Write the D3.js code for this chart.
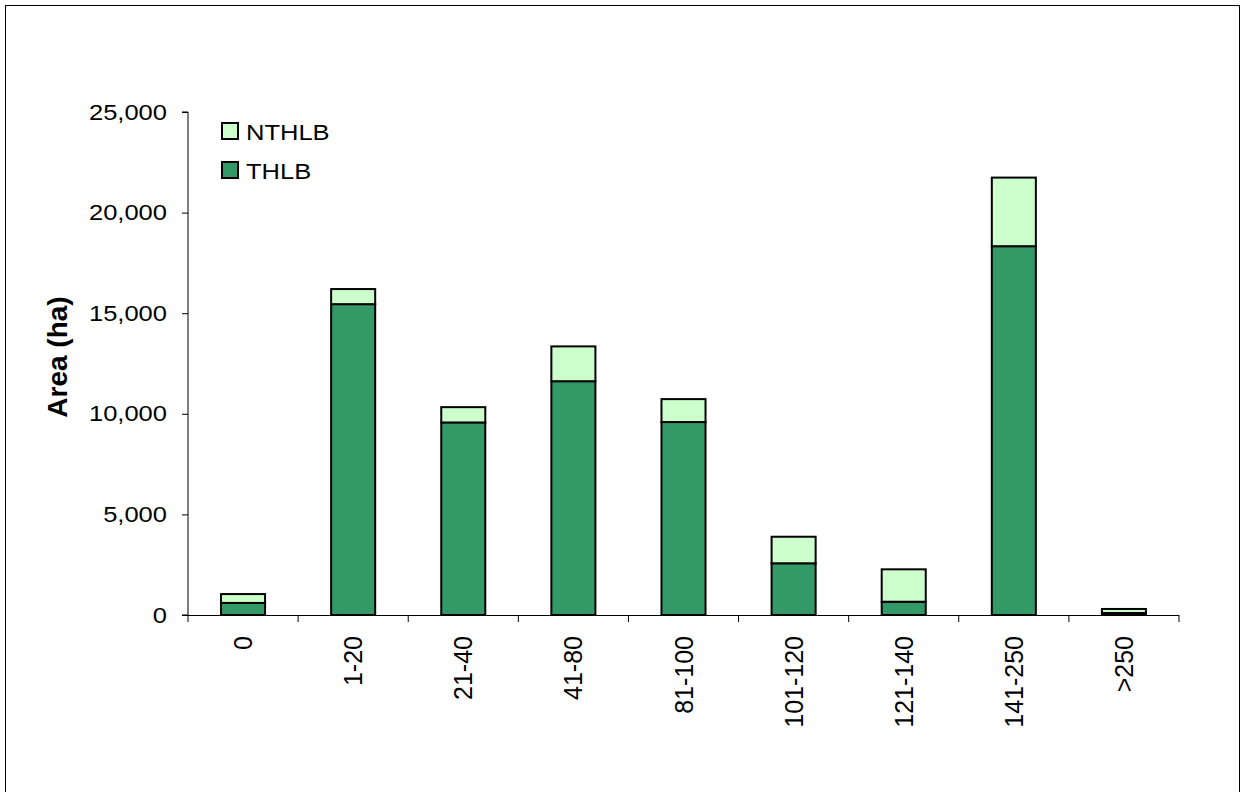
<!DOCTYPE html>
<html>
<head>
<meta charset="utf-8">
<script src="https://cdn.jsdelivr.net/npm/d3@7"></script>
<style>
  html, body { margin: 0; padding: 0; background: #fff; }
  svg { display: block; font-family: Arial, "Liberation Sans", sans-serif; }
</style>
</head>
<body>
<svg id="chart" width="1245" height="792"></svg>
<script>
// Area by class, split into timber harvesting land base (THLB) and the rest (NTHLB)
const categories = ["0", "1-20", "21-40", "41-80", "81-100", "101-120", "121-140", "141-250", ">250"];
const thlb  = [600, 15450, 9570, 11620, 9590, 2570, 660, 18330, 100];
const nthlb = [440, 750, 760, 1730, 1140, 1320, 1610, 3410, 200];
const yTicks = [0, 5000, 10000, 15000, 20000, 25000];
const seriesNames = ["THLB", "NTHLB"];
const seriesColors = ["#339966", "#CCFFCC"];

const FONT = "Arial, 'Liberation Sans', sans-serif";
const WIDE = 1.16; // horizontal text is drawn slightly widened

const svg = d3.select("#chart");

// outer chart border
svg.append("rect")
  .attr("x", 5.5).attr("y", 5.5)
  .attr("width", 1234).attr("height", 800)
  .attr("fill", "none").attr("stroke", "#000").attr("stroke-width", 1);

const margin = { left: 188, right: 1179, top: 112, bottom: 615 };

const x = d3.scaleBand()
  .domain(categories)
  .range([margin.left, margin.right])
  .paddingInner(0.6).paddingOuter(0.3);

const y = d3.scaleLinear()
  .domain([0, 25000])
  .range([margin.bottom, margin.top]);

const rows = categories.map((c, i) => ({ cat: c, THLB: thlb[i], NTHLB: nthlb[i] }));
const stack = d3.stack().keys(seriesNames)(rows);

// bars
svg.append("g").selectAll("g")
  .data(stack)
  .join("g")
  .attr("fill", (d, i) => seriesColors[i])
  .selectAll("rect")
  .data(d => d)
  .join("rect")
  .attr("x", d => x(d.data.cat))
  .attr("width", x.bandwidth())
  .attr("y", d => y(d[1]))
  .attr("height", d => y(d[0]) - y(d[1]))
  .attr("stroke", "#000")
  .attr("stroke-width", 2);

// y axis
const yAxis = d3.axisLeft(y)
  .tickValues(yTicks)
  .tickFormat(d3.format(","))
  .tickSize(6)
  .tickPadding(0);
const gy = svg.append("g")
  .attr("transform", `translate(${margin.left},0)`)
  .call(yAxis);
gy.select(".domain").attr("stroke", "#000").attr("d", `M-6,${margin.top}H0V${margin.bottom}H-6`);
gy.selectAll(".tick line").attr("stroke", "#000");
gy.selectAll("text")
  .attr("x", 0)
  .attr("transform", `translate(-21,0) scale(${WIDE},1)`)
  .attr("font-size", 22)
  .attr("fill", "#000")
  .attr("font-family", FONT);

// x axis: ticks at the category boundaries
const gx = svg.append("g")
  .attr("transform", `translate(0,${margin.bottom})`);
gx.append("line")
  .attr("x1", margin.left).attr("x2", margin.right)
  .attr("y1", 0.5).attr("y2", 0.5)
  .attr("stroke", "#000");
const step = x.step();
gx.selectAll("line.tick")
  .data(d3.range(categories.length + 1))
  .join("line")
  .attr("class", "tick")
  .attr("x1", i => margin.left + i * step)
  .attr("x2", i => margin.left + i * step)
  .attr("y1", 0).attr("y2", 7)
  .attr("stroke", "#000");
gx.selectAll("text")
  .data(categories)
  .join("text")
  .attr("transform", d => `translate(${x(d) + x.bandwidth() / 2 + 9},21) rotate(-90)`)
  .attr("text-anchor", "end")
  .attr("font-size", 25)
  .attr("fill", "#000")
  .text(d => d);

// y axis title
svg.append("text")
  .attr("transform", `translate(67,357) rotate(-90)`)
  .attr("text-anchor", "middle")
  .attr("font-size", 28)
  .attr("font-weight", "bold")
  .text("Area (ha)");

// legend
const legendItems = [
  { name: "NTHLB", color: seriesColors[1] },
  { name: "THLB", color: seriesColors[0] }
];
const lg = svg.append("g").attr("transform", "translate(222,123)");
lg.selectAll("rect")
  .data(legendItems)
  .join("rect")
  .attr("x", 0)
  .attr("y", (d, i) => i * 39)
  .attr("width", 16).attr("height", 16)
  .attr("fill", d => d.color)
  .attr("stroke", "#000")
  .attr("stroke-width", 2);
lg.selectAll("text")
  .data(legendItems)
  .join("text")
  .attr("transform", (d, i) => `translate(24,${i * 39 + 16.5}) scale(${WIDE},1)`)
  .attr("font-size", 22)
  .text(d => d.name);
</script>
</body>
</html>
